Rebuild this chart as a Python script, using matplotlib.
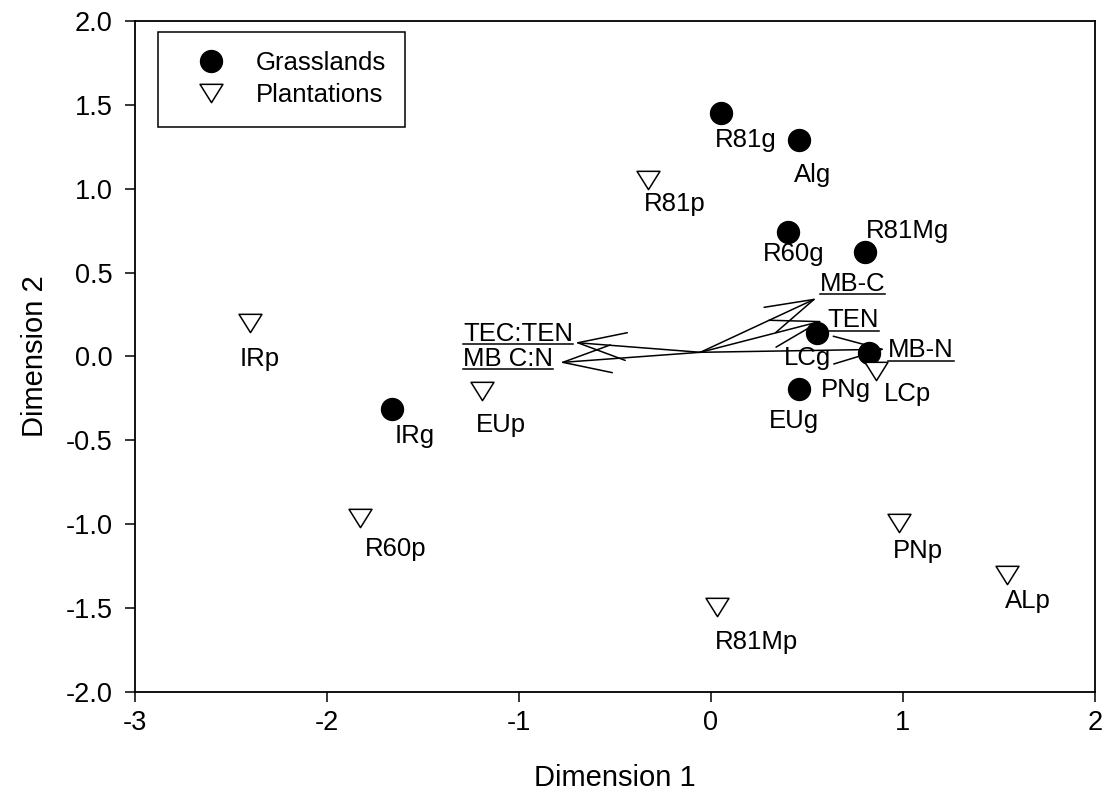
import matplotlib
matplotlib.use("Agg")
import matplotlib.pyplot as plt
from matplotlib.path import Path
from matplotlib.lines import Line2D
from matplotlib.patches import FancyArrowPatch

plt.rcParams['font.family'] = ['Liberation Sans', 'DejaVu Sans']
plt.rcParams['axes.unicode_minus'] = False

# ---- data ----
grass_names = ['R81g', 'Alg', 'R60g', 'R81Mg', 'LCg', 'PNg', 'EUg', 'IRg']
grass_x = [0.05, 0.46, 0.40, 0.80, 0.55, 0.825, 0.46, -1.66]
grass_y = [1.45, 1.29, 0.74, 0.62, 0.14, 0.02, -0.195, -0.31]

plant_names = ['R81p', 'IRp', 'EUp', 'R60p', 'PNp', 'ALp', 'R81Mp', 'LCp']
plant_x = [-0.33, -2.40, -1.19, -1.83, 0.98, 1.54, 0.03, 0.86]
plant_y = [1.05, 0.20, -0.205, -0.96, -0.99, -1.30, -1.49, -0.085]

vec_names = ['MB-C', 'TEN', 'MB-N', 'TEC:TEN', 'MB C:N']
vec_x = [0.55, 0.58, 0.906, -0.708, -0.786]
vec_y = [0.347, 0.212, 0.043, 0.083, -0.036]
vec_origin = (-0.055, 0.025)

x_ticks = [-3, -2, -1, 0, 1, 2]
y_ticks = [-2.0, -1.5, -1.0, -0.5, 0.0, 0.5, 1.0, 1.5, 2.0]

# ---- label layout (offsets in pixels: left edge / baseline relative to point) ----
label_off = {
    'R81g': (-6, -34), 'Alg': (-5, -42), 'R60g': (-25, -29), 'R81Mg': (1, 14),
    'LCg': (-33, -32), 'PNg': (-48, -44), 'EUg': (-30, -39), 'IRg': (2, -34),
    'R81p': (-4, -31), 'IRp': (-11, -43), 'EUp': (-7, -41), 'R60p': (5, -38),
    'PNp': (-6, -35), 'ALp': (-2, -33), 'R81Mp': (-2, -42), 'LCp': (8, -30),
}
vec_label = {  # offset (px), horizontal alignment
    'MB-C': ((3, 7.5), 'left'), 'TEN': ((5, -6.6), 'left'), 'MB-N': ((3, -8), 'left'),
    'TEC:TEN': ((-2, 1.6), 'right'), 'MB C:N': ((-7, -3.4), 'right'),
}

fig = plt.figure(figsize=(11.08, 8.05), dpi=100)
ax = fig.add_axes([0.1218, 0.14, 0.8664, 0.8343])

tri = Path([(-1, 0.8), (1, 0.8), (0, -0.8), (-1, 0.8)],
           [Path.MOVETO, Path.LINETO, Path.LINETO, Path.CLOSEPOLY])

ax.plot(grass_x, grass_y, linestyle='none', marker='o', ms=15.8, mfc='black',
        mec='black', label='Grasslands', zorder=3)
ax.plot(plant_x, plant_y, linestyle='none', marker=tri, ms=16.5, mfc='white',
        mec='black', mew=1.1, label='Plantations', zorder=3)

fs = 18.5
for names, xs, ys in ((grass_names, grass_x, grass_y), (plant_names, plant_x, plant_y)):
    for n, x, y in zip(names, xs, ys):
        ax.annotate(n, (x, y), xytext=label_off[n], textcoords='offset pixels',
                    ha='left', va='baseline', fontsize=fs, zorder=4)

vtexts = []
for n, x, y in zip(vec_names, vec_x, vec_y):
    arr = FancyArrowPatch(vec_origin, (x, y), arrowstyle='->,head_length=35,head_width=10',
                          mutation_scale=1, lw=1.1, color='black', shrinkA=0, shrinkB=0,
                          zorder=2)
    ax.add_patch(arr)
    off, ha = vec_label[n]
    t = ax.annotate(n, (x, y), xytext=off, textcoords='offset pixels', ha=ha,
                    va='baseline', fontsize=fs, zorder=4)
    vtexts.append(t)

ax.set_xlim(-3, 2)
ax.set_ylim(-2, 2)
ax.set_xticks(x_ticks)
ax.set_xticklabels([str(v) for v in x_ticks])
ax.set_yticks(y_ticks)
ax.set_yticklabels([f"{v:.1f}" for v in y_ticks])
ax.tick_params(direction='out', length=7, width=1.1, labelsize=19.5, colors='black')
ax.tick_params(axis='y', pad=9)
ax.tick_params(axis='x', pad=6)
for s in ax.spines.values():
    s.set_linewidth(1.3)
    s.set_color('black')

ax.set_xlabel('Dimension 1', fontsize=21, labelpad=20)
ax.set_ylabel('Dimension 2', fontsize=21, labelpad=12)

leg = ax.legend(loc='upper left', bbox_to_anchor=(0.024, 0.9836), borderaxespad=0,
                fontsize=18.5, frameon=True, fancybox=False, edgecolor='black',
                framealpha=1, handlelength=2.6, handletextpad=0.45, borderpad=0.75,
                labelspacing=0.33)
leg.get_frame().set_linewidth(1.1)

# underline the vector labels
fig.canvas.draw()
r = fig.canvas.get_renderer()
inv = fig.transFigure.inverted()
for t in vtexts:
    bb = t.get_window_extent(r)
    yline = bb.y0 + 1.5
    (fx0, fy), (fx1, _) = inv.transform([(bb.x0, yline), (bb.x1, yline)])
    fig.add_artist(Line2D([fx0, fx1], [fy, fy], color='black', lw=1.1))

fig.savefig('out.png', dpi=100)
